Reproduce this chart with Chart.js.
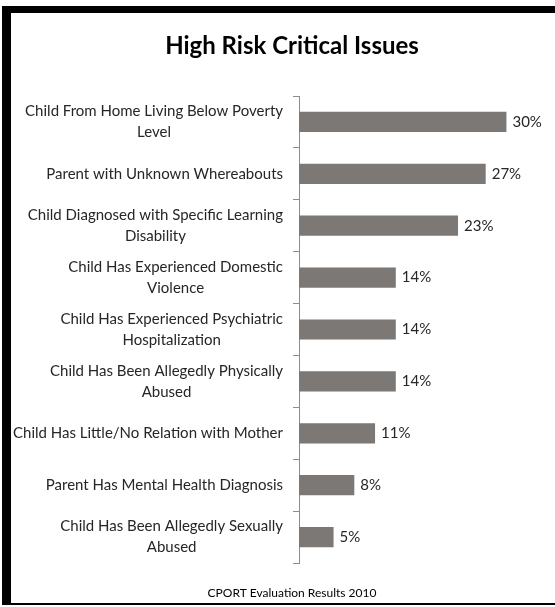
<!DOCTYPE html>
<html>
<head>
<meta charset="utf-8">
<title>High Risk Critical Issues</title>
<script src="https://cdn.jsdelivr.net/npm/chart.js@4.4.1/dist/chart.umd.min.js"></script>
<style>
    html, body { margin: 0; padding: 0; background: #fff; }
    .wrap { position: relative; width: 555px; height: 607px; }
    .frame {
        position: absolute; left: 2px; top: 6px; right: 0; bottom: 2px;
        border-left: 9px solid #000; border-top: 7px solid #000; border-bottom: 2px solid #000;
        pointer-events: none;
    }
</style>
</head>
<body>
<div class="wrap">
    <canvas id="chart" width="555" height="607"></canvas>
    <div class="frame"></div>
</div>
<script>
var categories = [
    ["Child From Home Living Below Poverty", "Level"],
    ["Parent with Unknown Whereabouts"],
    ["Child Diagnosed with Specific Learning", "Disability"],
    ["Child Has Experienced Domestic", "Violence"],
    ["Child Has Experienced Psychiatric", "Hospitalization"],
    ["Child Has Been Allegedly Physically", "Abused"],
    ["Child Has Little/No Relation with Mother"],
    ["Parent Has Mental Health Diagnosis"],
    ["Child Has Been Allegedly Sexually", "Abused"]
];
var percents = [30, 27, 23, 14, 14, 14, 11, 8, 5];

(function () {
    "use strict";

    var FONT = "Lato, 'Open Sans', sans-serif";
    var TEXT = "#262626";

    // Category labels: right aligned block, lines centred under each other
    var sideLabels = {
        id: "sideLabels",
        afterDraw: function (chart) {
            var ctx = chart.ctx;
            var y = chart.scales.y;
            var right = y.right - 16;
            ctx.save();
            ctx.font = "15px " + FONT;
            ctx.fillStyle = TEXT;
            ctx.textAlign = "center";
            ctx.textBaseline = "middle";
            categories.forEach(function (lines, i) {
                var cy = y.getPixelForTick(i);
                var w = Math.max.apply(null, lines.map(function (l) { return ctx.measureText(l).width; }));
                var cx = right - w / 2;
                lines.forEach(function (l, j) {
                    ctx.fillText(l, cx, cy + (j - (lines.length - 1) / 2) * 21);
                });
            });
            ctx.restore();
        }
    };

    // Value labels at the end of each bar
    var valueLabels = {
        id: "valueLabels",
        afterDatasetsDraw: function (chart) {
            var ctx = chart.ctx;
            var meta = chart.getDatasetMeta(0);
            ctx.save();
            ctx.font = "15px " + FONT;
            ctx.fillStyle = TEXT;
            ctx.textAlign = "left";
            ctx.textBaseline = "middle";
            meta.data.forEach(function (bar, i) {
                ctx.fillText(percents[i] + "%", bar.x + 6, bar.y);
            });
            ctx.restore();
        }
    };

    new Chart(document.getElementById("chart"), {
        type: "bar",
        data: {
            labels: categories,
            datasets: [{
                data: percents,
                backgroundColor: "#7b7875",
                categoryPercentage: 1,
                barPercentage: 0.39
            }]
        },
        options: {
            indexAxis: "y",
            responsive: false,
            animation: false,
            layout: { padding: { left: 43, right: 14, top: 30, bottom: 6 } },
            plugins: {
                legend: { display: false },
                tooltip: { enabled: false },
                title: {
                    display: true,
                    text: "High Risk Critical Issues",
                    color: "#000",
                    font: { family: FONT, size: 24, weight: "bold" },
                    padding: { top: 1.6, bottom: 35.6 }
                },
                subtitle: {
                    display: true,
                    position: "bottom",
                    text: "CPORT Evaluation Results 2010",
                    color: "#000",
                    font: { family: FONT, size: 12 },
                    padding: { top: 22.8, bottom: 0.8 }
                }
            },
            scales: {
                x: { display: false, min: 0, max: 35 },
                y: {
                    ticks: { display: false },
                    grid: {
                        offset: true,
                        drawOnChartArea: false,
                        drawTicks: true,
                        tickLength: 6,
                        color: "#8c8c8c"
                    },
                    border: { display: true, color: "#8c8c8c" },
                    afterFit: function (scale) { scale.width = 256; }
                }
            }
        },
        plugins: [sideLabels, valueLabels]
    });
})();
</script>
</body>
</html>
